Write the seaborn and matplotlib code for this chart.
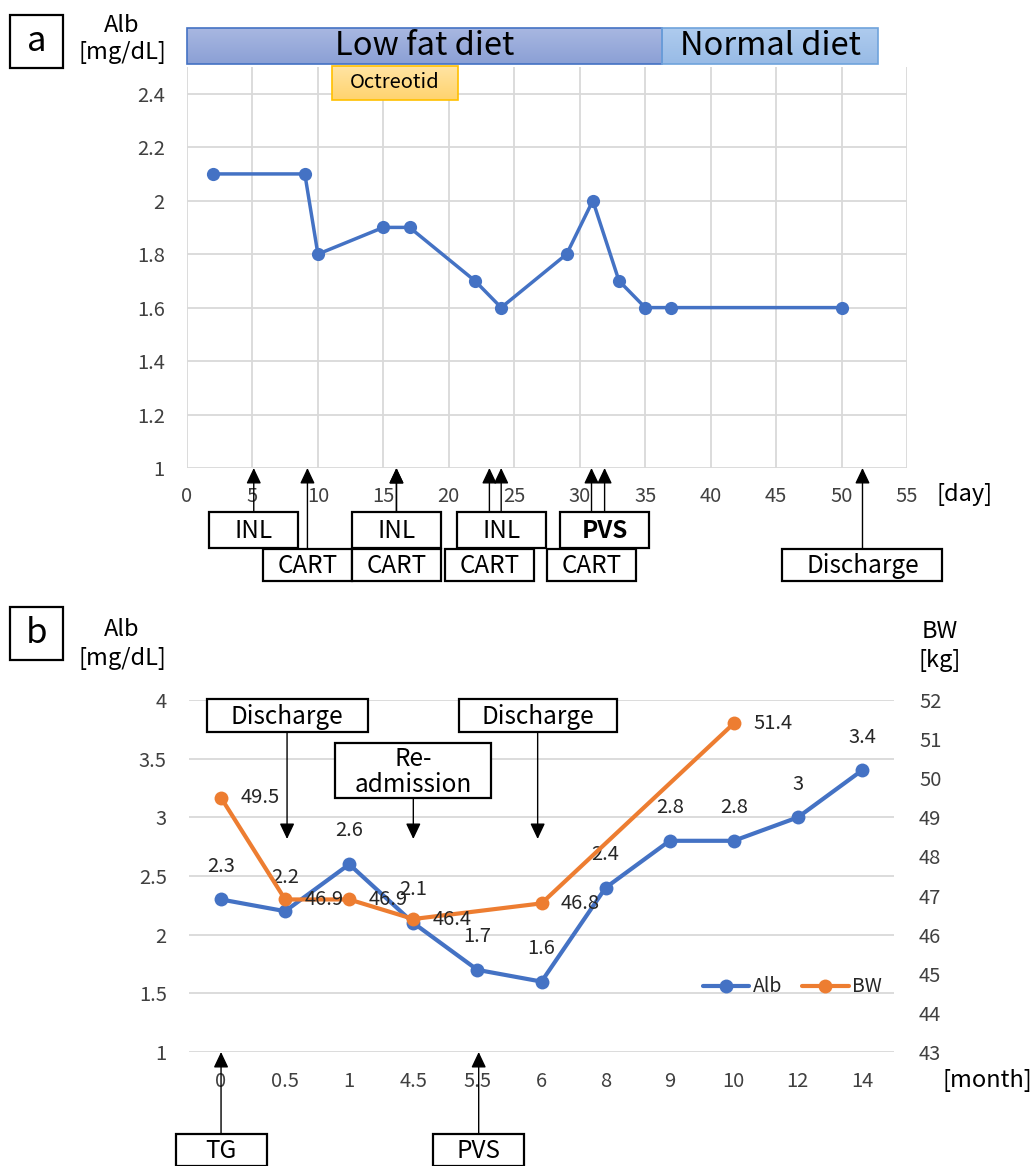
import numpy as np
import pandas as pd
import matplotlib
matplotlib.use("Agg")
import matplotlib.pyplot as plt
import seaborn as sns
from matplotlib.patches import Rectangle
from matplotlib.colors import LinearSegmentedColormap

# ---------------- data: panel a ----------------
days = [2, 9, 10, 15, 17, 22, 24, 29, 31, 33, 35, 37, 50]
alb_a = [2.1, 2.1, 1.8, 1.9, 1.9, 1.7, 1.6, 1.8, 2.0, 1.7, 1.6, 1.6, 1.6]
diet_labels = ["Low fat diet", "Normal diet"]
diet_start = [0.0, 36.3]
diet_end = [36.3, 52.8]
drug_label = "Octreotid"
drug_span = [11.1, 20.7]
ev_a_labels = ["INL", "CART", "INL", "CART", "CART", "INL", "CART", "PVS", "Discharge"]
ev_a_days = [5.1, 9.2, 16.0, 16.0, 23.1, 24.0, 30.9, 31.9, 51.6]
ev_a_row = [0, 1, 0, 1, 1, 0, 1, 0, 1]
xticks_a = list(range(0, 56, 5))
yticks_a = [1, 1.2, 1.4, 1.6, 1.8, 2, 2.2, 2.4]

# ---------------- data: panel b ----------------
months = ["0", "0.5", "1", "4.5", "5.5", "6", "8", "9", "10", "12", "14"]
alb_b = [2.3, 2.2, 2.6, 2.1, 1.7, 1.6, 2.4, 2.8, 2.8, 3.0, 3.4]
bw_months = ["0", "0.5", "1", "4.5", "6", "10"]
bw = [49.5, 46.9, 46.9, 46.4, 46.8, 51.4]
ev_b_top_labels = ["Discharge", "Re-\nadmission", "Discharge"]
ev_b_top_pos = [1.03, 3.0, 4.94]
ev_b_bot_labels = ["TG", "PVS"]
ev_b_bot_pos = [0.0, 4.02]
yticks_b = [1, 1.5, 2, 2.5, 3, 3.5, 4]
yticks_b2 = list(range(43, 53))

BLUE = "#4472C4"
ORANGE = "#ED7D31"
GRID = "#D9D9D9"
TICK = "#404040"

sns.set_style("white")
plt.rcParams["font.family"] = ["Noto Sans CJK JP", "DejaVu Sans"]

W, H = 1033, 1166
fig = plt.figure(figsize=(W / 100, H / 100), dpi=100)

axA = fig.add_axes([187 / W, 1 - 468 / H, (907 - 187) / W, (468 - 67) / H])
axB = fig.add_axes([189 / W, 1 - 1052 / H, (894 - 189) / W, (1052 - 700) / H])
ov = fig.add_axes([0, 0, 1, 1], zorder=10)
ov.set_xlim(0, W)
ov.set_ylim(H, 0)
ov.axis("off")

# ---------------- panel a ----------------
dfa = pd.DataFrame({"day": days, "alb": alb_a})
sns.lineplot(data=dfa, x="day", y="alb", ax=axA, color=BLUE, lw=2.5,
             marker="o", markersize=9.5, markeredgewidth=0, sort=False)
axA.set_xlim(0, 55)
axA.set_ylim(1, 2.5)
axA.set_xticks(xticks_a)
axA.set_yticks(yticks_a)
axA.set_yticklabels([f"{v:g}" for v in yticks_a])
axA.grid(True, color=GRID, lw=1.3)
axA.set_axisbelow(True)
for s in axA.spines.values():
    s.set_visible(False)
axA.tick_params(axis="x", length=0, pad=13, labelsize=14.5, labelcolor=TICK)
axA.tick_params(axis="y", length=0, pad=16, labelsize=14.5, labelcolor=TICK)
axA.set_xlabel("")
axA.set_ylabel("")

# ---------------- panel b ----------------
pos = {m: i for i, m in enumerate(months)}
dfb = pd.DataFrame({"x": [pos[m] for m in months], "alb": alb_b})
dfw = pd.DataFrame({"x": [pos[m] for m in bw_months], "bw": bw})
sns.lineplot(data=dfb, x="x", y="alb", ax=axB, color=BLUE, lw=3,
             marker="o", markersize=10, markeredgewidth=0, label="Alb")
axB2 = axB.twinx()
sns.lineplot(data=dfw, x="x", y="bw", ax=axB2, color=ORANGE, lw=3,
             marker="o", markersize=10, markeredgewidth=0, label="BW")
for a in (axB, axB2):
    if a.get_legend() is not None:
        a.get_legend().remove()
    for s in a.spines.values():
        s.set_visible(False)
    a.set_xlabel("")
    a.set_ylabel("")
axB.set_xlim(-0.5, len(months) - 0.5)
axB.set_ylim(1, 4)
axB2.set_ylim(43, 52)
axB.set_xticks(range(len(months)))
axB.set_xticklabels(months)
axB.set_yticks(yticks_b)
axB.set_yticklabels([f"{v:g}" for v in yticks_b])
axB2.set_yticks(yticks_b2)
axB.yaxis.grid(True, color=GRID, lw=1.3)
axB.xaxis.grid(False)
axB2.grid(False)
axB.set_axisbelow(True)
axB.tick_params(axis="x", length=0, pad=14, labelsize=14.5, labelcolor=TICK)
axB.tick_params(axis="y", length=0, pad=16, labelsize=14.5, labelcolor=TICK)
axB2.tick_params(axis="y", length=0, pad=18, labelsize=14.5, labelcolor=TICK)

for x, v in zip(dfb["x"], alb_b):
    axB.annotate(f"{v:g}", (x, v), xytext=(0, 24), textcoords="offset points",
                 ha="center", va="center", fontsize=14.5, color="#262626")
for x, v in zip(dfw["x"], bw):
    axB2.annotate(f"{v:g}", (x, v), xytext=(14, 0), textcoords="offset points",
                  ha="left", va="center", fontsize=14.5, color="#262626")

h1, l1 = axB.get_legend_handles_labels()
h2, l2 = axB2.get_legend_handles_labels()
axB2.legend(h1 + h2, l1 + l2, loc="center right", bbox_to_anchor=(1.0, 0.185),
            ncol=2, frameon=False, fontsize=14, handlelength=2.4,
            handletextpad=0.2, columnspacing=1.0, borderaxespad=0.2)

# ---------------- overlay helpers ----------------
def px(ax, x):
    return ax.transData.transform((x, ax.get_ylim()[0]))[0]

def axis_bottom(ax):
    return H - ax.transAxes.transform((0, 0))[1]

def box(cx, y0, w, h, text, fs=17.5, bold=False, lw=1.6):
    ov.add_patch(Rectangle((cx - w / 2, y0), w, h, facecolor="white",
                           edgecolor="black", lw=lw, zorder=3))
    ov.text(cx, y0 + h / 2 + 1, text, ha="center", va="center", fontsize=fs,
            fontweight="bold" if bold else "normal", color="black", zorder=4,
            linespacing=1.0)

def arrow(x, y_from, y_to):
    ov.annotate("", xy=(x, y_to), xytext=(x, y_from),
                arrowprops=dict(arrowstyle="-|>,head_length=0.95,head_width=0.45",
                                lw=1.0, color="black", mutation_scale=10,
                                shrinkA=0, shrinkB=0), zorder=2)

def grad_rect(x0, x1, y0, y1, c_top, c_bot, edge, lw=1.2):
    cmap = LinearSegmentedColormap.from_list("g", [c_top, c_bot])
    grad = np.linspace(0, 1, 64).reshape(-1, 1)
    ov.imshow(grad, cmap=cmap, extent=(x0, x1, y1, y0), aspect="auto",
              zorder=1, interpolation="bilinear")
    ov.add_patch(Rectangle((x0, y0), x1 - x0, y1 - y0, facecolor="none",
                           edgecolor=edge, lw=lw, zorder=2))

# ---------------- panel a overlays ----------------
ybot_a = axis_bottom(axA)
rows_top = [512, 549]
rows_h = [36, 32]
for lab, d, r in zip(ev_a_labels, ev_a_days, ev_a_row):
    arrow(px(axA, d), rows_top[r], ybot_a)
for lab, d, r in sorted(zip(ev_a_labels, ev_a_days, ev_a_row), key=lambda t: -t[2]):
    w = 160 if lab == "Discharge" else 89
    box(px(axA, d), rows_top[r], w, rows_h[r], lab, bold=(lab == "PVS"))

diet_cols = [("#A8B7E1", "#8BA0D5", "#4472C4"), ("#AECBEE", "#98BBE6", "#6FA3DC")]
for lab, s, e, (ct, cb, ce) in zip(diet_labels, diet_start, diet_end, diet_cols):
    x0, x1 = px(axA, s), px(axA, e)
    grad_rect(x0, x1, 28, 64, ct, cb, ce)
    ov.text((x0 + x1) / 2, 46, lab, ha="center", va="center", fontsize=23.5,
            color="black", zorder=4)
x0, x1 = px(axA, drug_span[0]), px(axA, drug_span[1])
grad_rect(x0, x1, 66, 100, "#FFE4A3", "#FFD36E", "#FFC000")
ov.text((x0 + x1) / 2, 83, drug_label, ha="center", va="center", fontsize=14.5,
        color="black", zorder=4)

# ---------------- panel b overlays ----------------
ybot_b = axis_bottom(axB)
top_geom = [(699, 33, 161), (743, 55, 156), (699, 33, 158)]
for lab, p, (y0, hh, w) in zip(ev_b_top_labels, ev_b_top_pos, top_geom):
    cx = px(axB, p)
    arrow(cx, y0 + hh, 839)
    box(cx, y0, w, hh, lab)
for lab, p in zip(ev_b_bot_labels, ev_b_bot_pos):
    cx = px(axB, p)
    arrow(cx, 1134, ybot_b)
    box(cx, 1134, 91, 32, lab)

# ---------------- labels ----------------
for (x0, y0, y1, lab) in [(10, 15, 68, "a"), (10, 607, 660, "b")]:
    ov.add_patch(Rectangle((x0, y0), 53, y1 - y0, facecolor="white",
                           edgecolor="black", lw=1.6, zorder=3))
    ov.text(x0 + 26.5, (y0 + y1) / 2, lab, ha="center", va="center",
            fontsize=25, color="black", zorder=4)

for yc in (0, 605):
    ov.text(122, 25 + yc, "Alb", ha="center", va="center", fontsize=17, color="black")
    ov.text(122, 53 + yc, "[mg/dL]", ha="center", va="center", fontsize=17, color="black")
ov.text(940, 631, "BW", ha="center", va="center", fontsize=17, color="black")
ov.text(940, 660, "[kg]", ha="center", va="center", fontsize=17, color="black")
ov.text(965, 494, "[day]", ha="center", va="center", fontsize=17, color="black")
ov.text(987, 1081, "[month]", ha="center", va="center", fontsize=17, color="black")

ov.set_xlim(0, W)
ov.set_ylim(H, 0)

fig.savefig("out.png", dpi=100)
